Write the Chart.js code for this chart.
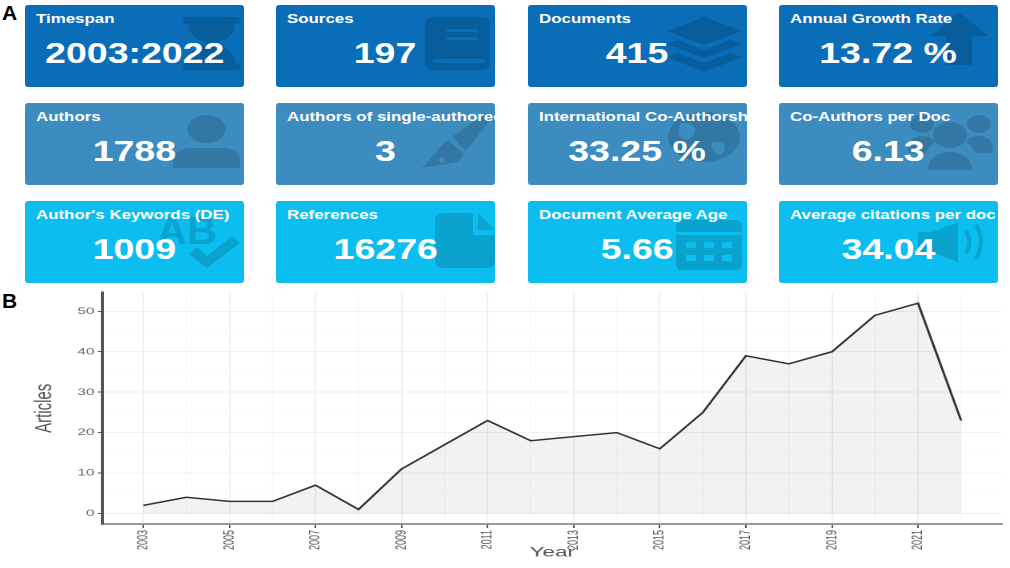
<!DOCTYPE html>
<html>
<head>
<meta charset="utf-8">
<script src="https://cdn.jsdelivr.net/npm/chart.js"></script>
<style>
  body { margin:0; width:1010px; height:568px; background:#fff; overflow:hidden; position:relative; font-family:"Liberation Sans", Arial, sans-serif; }
  .panel { position:absolute; left:2px; font:bold 21px/20px "Liberation Sans", Arial, sans-serif; color:#000; }
  .box { position:absolute; width:219px; height:82px; border-radius:3px; overflow:hidden; color:#fff; }
  .box .t { position:absolute; left:11px; top:6px; font-weight:bold; font-size:13.5px; line-height:16px; white-space:nowrap; transform:scaleX(1.25); transform-origin:0 0; }
  .box .v { position:absolute; left:0; right:0; top:31px; text-align:center; white-space:nowrap; }
  .box .v span { display:inline-block; font-weight:bold; font-size:30px; line-height:34px; transform:scaleX(1.25); }
  .box svg { position:absolute; fill:#000; opacity:0.14; }
  .c1 { background:#0a6db7; }
  .c2 { background:#3c8cc0; }
  .c3 { background:#0cbef0; }
  #wrap { position:absolute; left:0; top:285px; width:631px; height:283px; transform:scaleX(1.6006); transform-origin:0 0; }
</style>
</head>
<body>

<div class="panel" style="top:3px">A</div>
<div class="panel" style="top:291px">B</div>

<div id="cards"></div>

<div id="wrap"><canvas id="chart"></canvas></div>

<script>
// info boxes (panel A)
const cardTitles = ['Timespan', 'Sources', 'Documents', 'Annual Growth Rate',
  'Authors', 'Authors of single-authored docs', 'International Co-Authorship', 'Co-Authors per Doc',
  "Author's Keywords (DE)", 'References', 'Document Average Age', 'Average citations per doc'];
const cardValues = ['2003:2022', '197', '415', '13.72 %',
  '1788', '3', '33.25 %', '6.13',
  '1009', '16276', '5.66', '34.04'];

// yearly production (panel B)
const years = [2003, 2004, 2005, 2006, 2007, 2008, 2009, 2010, 2011, 2012,
  2013, 2014, 2015, 2016, 2017, 2018, 2019, 2020, 2021, 2022];
const articles = [2, 4, 3, 3, 7, 1, 11, 17, 23, 18,
  19, 20, 16, 25, 39, 37, 40, 49, 52, 23];
const xTickLabels = [2003, 2005, 2007, 2009, 2011, 2013, 2015, 2017, 2019, 2021];
const yTickLabels = [0, 10, 20, 30, 40, 50];

//icons
const icons = [
  // hourglass
  [158, 12, 57, 53, '<rect x="0" y="0" width="57" height="7" rx="3"/><rect x="0" y="46" width="57" height="7" rx="3"/><path d="M5 7H52C52 20 38 24 33 26.5C38 29 52 33 52 46H5C5 33 19 29 24 26.5C19 24 5 20 5 7Z"/>'],
  // book
  [149, 12, 65, 53, '<path fill-rule="evenodd" d="M8 0H57Q65 0 65 8V45Q65 53 57 53H8Q0 53 0 45V8Q0 0 8 0ZM22 12H52V15H22ZM22 20H52V23H22ZM8 42H60V46H8Z"/>'],
  // layers
  [139, 12, 75, 55, '<path d="M37 0L75 14L37 28L0 14Z"/><path d="M0 27L10 23L37 33L64 23L75 27L37 41Z"/><path d="M0 40L10 36L37 46L64 36L75 40L37 55Z"/>'],
  // arrow up
  [151, 7, 58, 53, '<path d="M29 0L58 24H42V53H16V24H0Z"/>'],
  // user
  [148, 12, 67, 53, '<ellipse cx="33.5" cy="14" rx="19" ry="14"/><path d="M0 53V46C0 38 8 33 18 33H49C59 33 67 38 67 46V53Z"/>'],
  // pen
  [144, 10, 72, 55, '<path d="M72 5L66 0L32 24L46 38Z"/><path fill-rule="evenodd" d="M28 27L44 41L38 49L2 55L12 44L20 34ZM22 44A3 3 0 1 0 22.1 44Z"/>'],
  // globe
  [140, 9, 72, 50, '<path fill-rule="evenodd" d="M0 25A36 25 0 1 0 72 25A36 25 0 1 0 0 25ZM12 12C20 8 30 14 26 22C22 30 14 28 10 22ZM44 30C52 28 60 32 56 40C50 46 42 40 44 30Z"/>'],
  // users
  [129, 12, 85, 55, '<ellipse cx="14" cy="9" rx="12" ry="9"/><ellipse cx="71" cy="9" rx="12" ry="9"/><path d="M0 34C0 26 6 21 14 21C20 21 24 23 27 27C22 30 19 34 18 38H0Z"/><path d="M85 34C85 26 79 21 71 21C65 21 61 23 58 27C63 30 66 34 67 38H85Z"/><ellipse cx="42" cy="20" rx="17" ry="13"/><path d="M20 55C20 44 29 37 42 37C55 37 64 44 64 55Z"/>'],
  // AB + check
  [130, 9, 85, 58, '<text x="2" y="34" font-size="38" font-weight="bold" font-family="Liberation Sans, Arial" textLength="60" lengthAdjust="spacingAndGlyphs">AB</text><path d="M34 44L42 37L52 46L77 26L85 33L52 58Z"/>'],
  // file
  [159, 12, 60, 55, '<path d="M8 0H38V22H60V47Q60 55 52 55H8Q0 55 0 47V8Q0 0 8 0Z"/><path d="M43 0L60 17H43Z"/>'],
  // calendar
  [148, 19, 66, 50, '<path d="M6 0H60Q66 0 66 6V12H0V6Q0 0 6 0Z"/><path fill-rule="evenodd" d="M0 15H66V44Q66 50 60 50H6Q0 50 0 44ZM10 22H20V28H10ZM28 22H38V28H28ZM46 22H56V28H46ZM10 35H20V41H10ZM28 35H38V41H28ZM46 35H56V41H46Z"/>'],
  // bullhorn
  [139, 21, 70, 40, '<path d="M0 10H14L40 0V40L14 30H0Z"/><path d="M48 9Q55 20 48 31" fill="none" stroke="#000" stroke-width="4"/><path d="M58 3Q68 20 58 37" fill="none" stroke="#000" stroke-width="4"/>']
];

const colLeft = [25, 276, 528, 779];
const rowTop = [5, 103, 201];
const cards = document.querySelector('#cards');

cardTitles.forEach((title, i) => {
  const row = Math.floor(i / 4);
  const box = document.createElement('div');
  box.className = 'box c' + (row + 1);
  box.style.left = colLeft[i % 4] + 'px';
  box.style.top = rowTop[row] + 'px';
  const [x, y, w, h, shape] = icons[i];
  box.innerHTML =
    '<svg style="left:' + x + 'px;top:' + y + 'px" width="' + w + '" height="' + h + '" viewBox="0 0 ' + w + ' ' + h + '">' + shape + '</svg>' +
    '<div class="t">' + title + '</div>' +
    '<div class="v"><span>' + cardValues[i] + '</span></div>';
  cards.appendChild(box);
});

//chart
const gridColor = (labels) => (ctx) => labels.includes(ctx.tick && ctx.tick.value) ? '#efefef' : '#f9f9f9';
const tickColor = (labels) => (ctx) => labels.includes(ctx.tick && ctx.tick.value) ? '#555' : 'rgba(0,0,0,0)';

new Chart(document.querySelector('#chart'), {
  type: 'line',
  data: {
    datasets: [{
      data: years.map((yr, i) => ({ x: yr, y: articles[i] })),
      borderColor: '#333',
      borderWidth: 1.5,
      backgroundColor: 'rgba(0,0,0,0.05)',
      fill: 'origin',
      pointRadius: 0,
      tension: 0
    }]
  },
  options: {
    responsive: true,
    maintainAspectRatio: false,
    animation: false,
    devicePixelRatio: 2,
    layout: { padding: { top: 6, right: 5, left: 0, bottom: 0 } },
    plugins: { legend: { display: false }, tooltip: { enabled: false } },
    scales: {
      x: {
        type: 'linear',
        min: 2002.05,
        max: 2022.95,
        afterFit: (s) => { s.height = 44; },
        border: { color: '#999', width: 2 },
        grid: { color: gridColor(xTickLabels), tickColor: tickColor(xTickLabels), tickLength: 4 },
        ticks: {
          stepSize: 1,
          maxTicksLimit: 100,
          includeBounds: false,
          autoSkip: false,
          minRotation: 90,
          maxRotation: 90,
          padding: 2,
          color: '#555',
          font: { family: 'Liberation Sans', size: 9 },
          callback: (v) => xTickLabels.includes(v) ? String(v) : ''
        },
        title: {
          display: true,
          text: 'Year',
          color: '#555',
          font: { family: 'Liberation Sans', size: 14 },
          padding: { top: 0, bottom: 7 }
        }
      },
      y: {
        min: -2.6,
        max: 54.6,
        afterFit: (s) => { s.width = 64; },
        border: { color: '#555', width: 2 },
        grid: { color: gridColor(yTickLabels), tickColor: tickColor(yTickLabels), tickLength: 3 },
        ticks: {
          stepSize: 5,
          maxTicksLimit: 100,
          includeBounds: false,
          padding: 2,
          color: '#666',
          font: { family: 'Liberation Sans', size: 9.5 },
          callback: (v) => yTickLabels.includes(v) ? String(v) : ''
        },
        title: {
          display: true,
          text: 'Articles',
          color: '#555',
          font: { family: 'Liberation Sans', size: 15 },
          padding: { top: 19, bottom: 0 }
        }
      }
    }
  }
});
</script>
</body>
</html>
